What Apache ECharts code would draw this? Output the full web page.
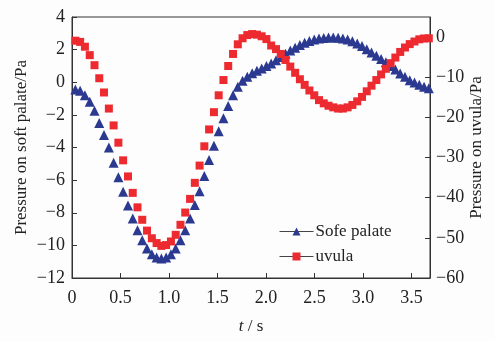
<!DOCTYPE html>
<html>
<head>
<meta charset="utf-8">
<script src="https://cdn.jsdelivr.net/npm/echarts@6/dist/echarts.min.js"></script>
<style>
html,body{margin:0;padding:0;background:#fdfdfd;}
#chart{width:495px;height:341px;}
</style>
</head>
<body>
<div id="chart"></div>
<script>
// time (s)
var timeS = [0.035,0.084,0.133,0.183,0.232,0.281,0.330,0.380,0.429,0.478,
  0.527,0.577,0.626,0.675,0.724,0.773,0.823,0.872,0.921,0.970,
  1.020,1.069,1.118,1.167,1.217,1.266,1.315,1.364,1.413,1.463,
  1.512,1.561,1.610,1.660,1.709,1.758,1.807,1.857,1.906,1.955,
  2.004,2.053,2.103,2.152,2.201,2.250,2.300,2.349,2.398,2.447,
  2.497,2.546,2.595,2.644,2.693,2.743,2.792,2.841,2.890,2.940,
  2.989,3.038,3.087,3.137,3.186,3.235,3.284,3.333,3.383,3.432,
  3.481,3.530,3.580,3.629,3.678];
// pressure on soft palate (Pa), left axis
var softPalate = [-0.44,-0.52,-0.79,-1.2,-1.75,-2.5,-3.24,-4.0,-4.94,-5.83,
  -6.72,-7.55,-8.35,-9.07,-9.68,-10.19,-10.54,-10.74,-10.8,-10.74,
  -10.54,-10.19,-9.68,-9.07,-8.35,-7.53,-6.68,-5.75,-4.77,-3.9,
  -3.0,-2.2,-1.46,-0.79,-0.28,0.09,0.34,0.55,0.7,0.85,
  1.0,1.15,1.35,1.55,1.75,1.95,2.12,2.28,2.42,2.53,
  2.62,2.68,2.72,2.74,2.75,2.73,2.68,2.62,2.52,2.38,
  2.22,2.03,1.83,1.62,1.42,1.22,1.0,0.78,0.54,0.33,
  0.13,-0.02,-0.16,-0.28,-0.37];
// pressure on uvula (Pa), right axis
var uvula = [-0.9,-1.2,-2.4,-4.5,-7.0,-10.25,-13.8,-17.8,-22,-26.3,
  -30.7,-34.7,-38.8,-42.4,-45.5,-48.2,-50.1,-51.3,-52,-51.8,
  -50.9,-49.25,-46.75,-43.7,-40.3,-36.3,-32,-27.2,-23,-18.7,
  -14.5,-10.7,-7.2,-4.2,-1.8,-0.3,0.5,0.75,0.6,0.2,
  -0.5,-2.1,-3.0,-4.2,-5.7,-7.35,-8.9,-10.5,-11.9,-13.3,
  -14.5,-15.7,-16.5,-17.1,-17.5,-17.8,-17.8,-17.5,-16.9,-16.0,
  -14.9,-13.5,-12.1,-10.7,-9.3,-7.9,-6.5,-5.1,-3.7,-2.6,
  -1.75,-1.1,-0.55,-0.35,-0.3];
var seriesNames = ['Sofe palate', 'uvula'];
var leftTicks = {min: -12, max: 4, interval: 2};
var rightTicks = {min: -60, max: 5, interval: 10};
var xTicks = {min: 0, max: 3.69, interval: 0.5};

function pairs(xs, ys) { return xs.map(function (x, i) { return [x, ys[i]]; }); }
function minusFmt(v) { return String(v).replace('-', '\u2212'); }

var FONT = 'Liberation Serif';
var AX = '#333';
var TXT = '#222';
var chart = echarts.init(document.getElementById('chart'), null, {renderer: 'canvas'});
chart.setOption({
  animation: false,
  backgroundColor: '#fdfdfd',
  textStyle: {fontFamily: FONT},
  grid: {left: 72, right: 65, top: 17, bottom: 63, show: true, borderColor: AX, borderWidth: 1, backgroundColor: 'transparent'},
  legend: {
    orient: 'vertical', left: 274, top: 218, itemGap: 8,
    itemWidth: 34, itemHeight: 10,
    textStyle: {fontFamily: FONT, fontSize: 17, color: TXT, padding: [0,0,0,-3]},
    data: [
      {name: seriesNames[0], lineStyle: {color: '#444', width: 1, opacity: 1}},
      {name: seriesNames[1], lineStyle: {color: '#444', width: 1, opacity: 1}}
    ]
  },
  xAxis: {
    type: 'value', min: xTicks.min, max: xTicks.max, interval: xTicks.interval,
    name: '{i|t} / s', nameLocation: 'middle', nameGap: 40, nameMoveOverlap: false,
    nameTextStyle: {fontFamily: FONT, fontSize: 17, color: TXT, rich: {i: {fontStyle: 'italic', fontFamily: FONT, fontSize: 17, color: TXT}}},
    axisLine: {onZero: false, lineStyle: {color: AX, width: 1}},
    axisTick: {inside: true, length: 5, lineStyle: {color: AX}},
    axisLabel: {showMaxLabel: false, margin: 11, fontFamily: FONT, fontSize: 18, color: TXT,
      formatter: function (v) { return v === 0 ? '0' : v.toFixed(1); }},
    splitLine: {show: false}
  },
  yAxis: [{
    type: 'value', position: 'left', min: leftTicks.min, max: leftTicks.max, interval: leftTicks.interval,
    name: 'Pressure on soft palate/Pa', nameLocation: 'middle', nameRotate: 90, nameGap: 42, nameMoveOverlap: false,
    nameTextStyle: {fontFamily: FONT, fontSize: 17, color: TXT},
    axisLine: {show: true, onZero: false, lineStyle: {color: AX, width: 1}},
    axisTick: {show: true, inside: true, length: 5, lineStyle: {color: AX}},
    axisLabel: {margin: 7, fontFamily: FONT, fontSize: 18, color: TXT, formatter: minusFmt},
    splitLine: {show: false}
  }, {
    type: 'value', position: 'right', min: rightTicks.min, max: rightTicks.max, interval: rightTicks.interval,
    name: 'Pressure on uvula/Pa', nameLocation: 'middle', nameRotate: 90, nameGap: 38, nameMoveOverlap: false,
    nameTextStyle: {fontFamily: FONT, fontSize: 17, color: TXT},
    axisLine: {show: true, onZero: false, lineStyle: {color: AX, width: 1}},
    axisTick: {show: true, inside: true, length: 5, lineStyle: {color: AX}},
    axisLabel: {showMaxLabel: false, margin: 6, fontFamily: FONT, fontSize: 18, color: TXT, formatter: minusFmt},
    splitLine: {show: false}
  }],
  series: [{
    name: seriesNames[0], type: 'line', yAxisIndex: 0,
    data: pairs(timeS, softPalate),
    symbol: 'triangle', symbolSize: 10, showAllSymbol: true,
    itemStyle: {color: '#2b3990', opacity: 1},
    lineStyle: {opacity: 0},
    emphasis: {disabled: true}
  }, {
    name: seriesNames[1], type: 'line', yAxisIndex: 1,
    data: pairs(timeS, uvula),
    symbol: 'rect', symbolSize: 8, showAllSymbol: true,
    itemStyle: {color: '#ec2a30', opacity: 1},
    lineStyle: {opacity: 0},
    emphasis: {disabled: true}
  }]
});
</script>
</body>
</html>
